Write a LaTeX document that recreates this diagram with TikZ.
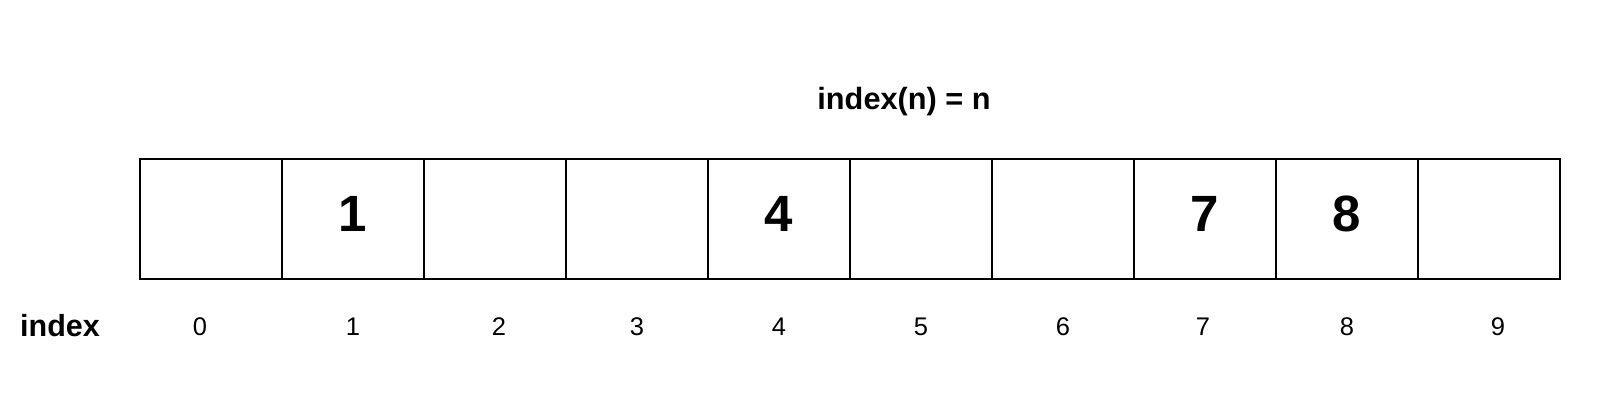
\documentclass[tikz,border=0pt]{standalone}
\usepackage{fontspec}
\setmainfont{Liberation Sans}
\begin{document}
\begin{tikzpicture}[x=1pt,y=-1pt,
  cell/.style={draw=black,line width=2pt,minimum width=142pt,minimum height=120pt,inner sep=0pt,outer sep=0pt},
  bigval/.style={anchor=base,inner sep=0pt,font=\fontsize{51}{51}\selectfont\bfseries},
  idx/.style={anchor=base,inner sep=0pt,font=\fontsize{25.5}{26}\selectfont},
  lbl/.style={anchor=base,inner sep=0pt,font=\fontsize{30.5}{31}\selectfont\bfseries},
  ttl/.style={anchor=base,inner sep=0pt,font=\fontsize{30.7}{32}\selectfont\bfseries}]
\useasboundingbox[fill=white] (0,0) rectangle (1600,400);
\foreach \i in {0,...,9}{
  \node[cell] (c\i) at ({211+142*\i},219) {};
}
\node[bigval] (v1) at (353,231.5) {1};
\node[bigval] (v4) at (779,231.5) {4};
\node[bigval] (v7) at (1205,231.5) {7};
\node[bigval] (v8) at (1347,231.5) {8};
\node[ttl] (title) at (904,109) {index(n) = n};
\node[lbl] (index) at (60,336.5) {index};
\node[idx] (l0) at (200,335) {0};
\node[idx] (l1) at (353,335) {1};
\node[idx] (l2) at (499,335) {2};
\node[idx] (l3) at (637,335) {3};
\node[idx] (l4) at (779,335) {4};
\node[idx] (l5) at (921,335) {5};
\node[idx] (l6) at (1063,335) {6};
\node[idx] (l7) at (1203,335) {7};
\node[idx] (l8) at (1347,335) {8};
\node[idx] (l9) at (1498,335) {9};
\end{tikzpicture}
\end{document}
